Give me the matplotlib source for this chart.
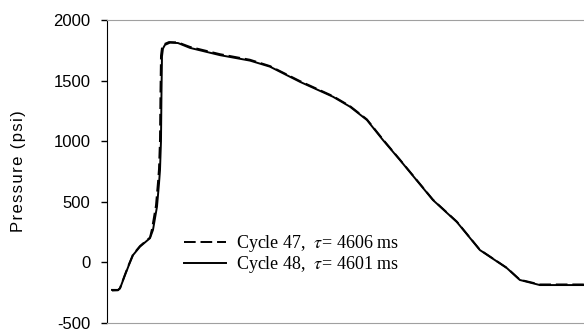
import matplotlib
matplotlib.use("Agg")
from matplotlib import pyplot as plt

# pressure traces for two consecutive cycles (time in ms, pressure in psi)
t48 = [5, 11, 13, 18, 22, 26, 33, 43, 46, 50, 52, 53, 54, 54.5, 55, 56, 58, 63, 71,
       83, 113, 143, 163, 193, 226, 243, 260, 276, 293, 326, 350, 373, 400, 413, 433, 477]
p48 = [-227, -227, -215, -105, -20, 60, 130, 200, 268, 460, 650, 760, 1000, 1400, 1700,
       1765, 1795, 1813, 1810, 1770, 1710, 1665, 1615, 1490, 1367, 1285, 1175, 1010, 845,
       515, 333, 102, -47, -145, -187, -187]

t47 = [5, 11, 13, 18, 22, 26, 33, 43, 45, 49, 51, 52, 53, 53.5, 54, 55, 57, 62, 71,
       83, 113, 143, 163, 193, 226, 243, 260, 276, 293, 326, 350, 373, 400, 413, 433, 477]
p47 = [-232, -230, -212, -100, -15, 65, 135, 205, 275, 470, 660, 770, 1010, 1410, 1705,
       1770, 1800, 1818, 1815, 1778, 1718, 1672, 1620, 1496, 1372, 1290, 1180, 1015, 848,
       518, 336, 104, -45, -143, -182, -182]

labels = [r"Cycle 47,  $\tau$= 4606 ms", r"Cycle 48,  $\tau$= 4601 ms"]
yticks = [-500, 0, 500, 1000, 1500, 2000]

plt.rcParams["font.family"] = ["Liberation Sans", "DejaVu Sans"]
plt.rcParams["mathtext.fontset"] = "stix"
plt.rcParams["axes.unicode_minus"] = False

fig = plt.figure(figsize=(5.84, 3.32), dpi=100)
ax = fig.add_axes([107 / 584, 9 / 332, 477 / 584 + 0.01, 303 / 332])

ax.plot(t47, p47, color="black", lw=1.4, linestyle=(0, (6, 2.5)), label=labels[0])
ax.plot(t48, p48, color="black", lw=1.4, label=labels[1])

ax.set_xlim(0, 483)
ax.set_ylim(-500, 2000)
ax.set_yticks(yticks)
ax.set_xticks([])
ax.tick_params(axis="y", direction="out", length=4, width=1, labelsize=12, pad=8)

# letter-spaced axis title
hair = "\u200a"
fig.text(19 / 584, 1 - 171.5 / 332, hair.join("Pressure (psi)"), rotation=90,
         ha="center", va="center", fontsize=12)

ax.spines["left"].set_color("black")
ax.spines["top"].set_color("#a0a0a0")
ax.spines["bottom"].set_color("#a0a0a0")
ax.spines["right"].set_visible(False)

ax.legend(loc="upper left", bbox_to_anchor=(0.145, 0.32), frameon=False,
          prop={"family": "Liberation Serif", "size": 13},
          handlelength=2.3, handletextpad=0.55, labelspacing=0.0, borderaxespad=0)

fig.savefig("out.png", dpi=100)
